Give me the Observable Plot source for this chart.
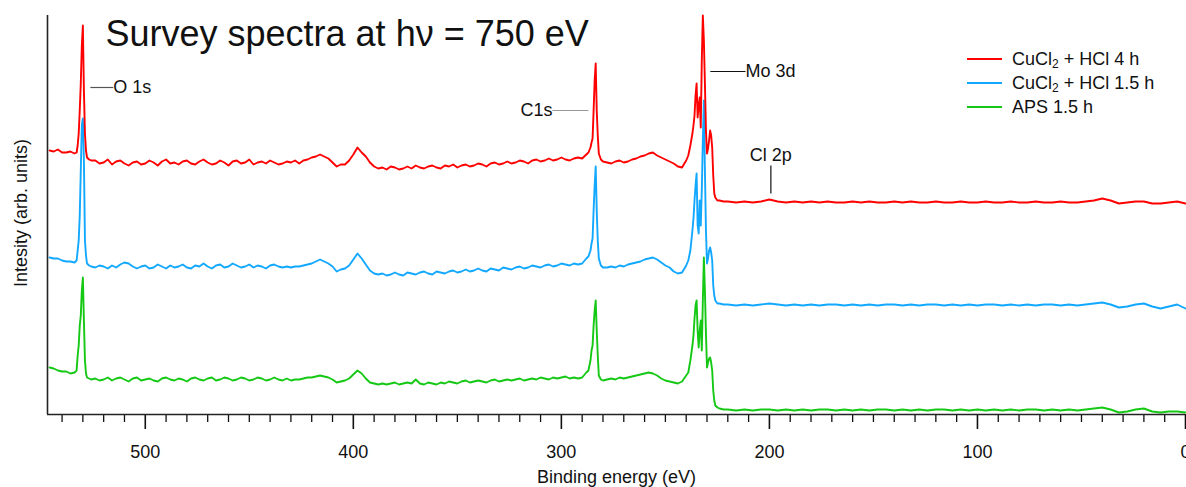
<!DOCTYPE html>
<html><head><meta charset="utf-8">
<script src="https://cdn.jsdelivr.net/npm/d3@7"></script>
<script src="https://cdn.jsdelivr.net/npm/@observablehq/plot@0.6"></script>
<style>
body{margin:0;background:#fff;font-family:"Liberation Sans",Arial,sans-serif}
#wrap{position:relative;width:1186px;height:487px;overflow:hidden}
.leg{position:absolute;left:967px;font-size:18px;color:#111;display:flex;align-items:center;height:24px;white-space:nowrap}
.leg .sw{display:inline-block;width:35px;height:2px;margin-right:10px}
.leg sub{font-size:12px;vertical-align:-3px;line-height:0}
</style></head>
<body><div id="wrap"></div>
<script>
// Binding energy grid (eV)
const energy = [
 546,544,542,540,538,536,534,
 533,532.5,532,531.5,531,530.5,530,529.5,529,528.5,528,527,526,
 524,522,520,518,516,514,512,510,508,506, 504,502,500,498,496,494,492,490,488,486, 484,482,480,478,476,474,472,470,468,466, 464,462,460,458,456,454,452,450,448,446, 444,442,440,438,436,434,432,
 430,428,426,424,422,420,418,416,414,412, 410,408,406,404,402,400,398,396,394,392, 390,388,
 386,384,382,380,378,376,374,372,370,368, 366,364,362,360,358,356,354,352,350,348, 346,344,342,340,338,336,334,332,330,328, 326,324,322,320,318,316,314,312,310,308, 306,304,302,300,298,296,294,292,290,
 288,287,286,285.5,285,284.5,284,283.5,283,282.5,282,281,280,
 278,276,274,272,270,268,266,264,262,260, 258,256,254,252,250,248,
 246,244,242,240,239,238,237,236.5,236,235.5, 235,234.5,234,233.5,233,232.5,232,231.5,231,230.5, 230,229.5,229,228.5,228,227.5,227,226.5,226,225, 224,222,
 220,216,212,208,204,200,196,192,188,184, 180,176,172,168,164,160,156,152,148,144, 140,136,132,128,124,120,116,112,108,104, 100,96,92,88,84,80,76,72,68,64, 60,56,52,48,44,40,36,32,28,24, 20,16,12,8,4,0
];
// Intensity (arb. units), offset stacked
const cucl4h = [
 264,263,265,262,262,263,261,
 262,269,281,304,331,369,389,324,281,264,257,255,254,
 254,251,252,255,250,253,254,251,249,252, 253,250,251,254,252,249,253,255,251,252, 250,253,254,251,250,253,255,252,250,251, 254,252,249,253,254,251,252,255,250,252, 253,251,254,252,250,251,253,
 252,254,251,254,255,257,258,260,258,256, 252,248,250,250,254,260,267,262,258,252, 248,246,
 247,245,248,247,245,246,248,246,249,247, 246,248,249,247,246,249,248,250,247,249, 250,248,249,251,250,248,251,252,250,251, 253,251,252,254,253,251,254,255,253,254, 256,254,255,257,255,254,256,257,256,
 260,262,267,272,276,304,334,351,304,279,261,255,253,
 252,251,253,254,252,253,255,256,258,259, 261,262,259,257,255,253,
 251,248,247,254,259,269,281,289,299,319, 331,297,309,317,287,354,399,374,331,284, 261,266,274,284,279,267,239,221,217,214, 214,213,
 213,212,213,212,213,215,213,212,213,212, 213,212,213,212,212,213,212,213,212,212, 213,212,213,212,212,213,212,212,213,212, 212,213,212,212,213,212,212,213,212,212, 213,212,212,213,214,216,214,211,212,213, 213,211,211,212,213,211
];
const cucl15h = [
 157,156,156,154,153,153,152,
 154,164,174,199,244,289,296,254,174,159,151,149,148,
 147,149,148,146,149,147,150,152,151,148, 146,148,149,146,147,150,148,146,149,147, 148,150,147,146,149,148,151,148,146,149, 150,147,148,151,149,147,148,150,147,149, 148,146,149,150,148,147,148,
 147,148,148,149,150,151,153,155,153,151, 148,143,145,146,149,155,161,156,150,144, 141,140,
 141,139,140,142,140,139,142,141,140,142, 143,141,140,143,142,141,143,144,142,143, 145,143,144,146,144,143,146,145,144,147, 146,145,147,148,146,147,149,148,147,149, 150,148,149,151,150,149,151,150,151,
 156,158,164,171,176,204,229,248,204,174,156,149,147,
 147,148,147,149,148,150,151,152,153,155, 156,157,155,152,149,147,
 143,141,142,149,154,164,184,196,214,229, 241,189,181,214,189,224,274,314,244,184, 151,156,164,167,162,154,129,119,114,111, 111,110,
 110,109,110,109,110,111,110,109,110,109, 110,109,110,110,109,110,109,110,109,110, 110,109,110,109,110,110,109,110,109,110, 109,110,110,109,110,109,110,109,110,110, 109,110,109,110,111,112,110,107,108,110, 111,108,106,108,110,106
];
const aps15h = [
 47,46,44,43,43,41,42,
 44,59,69,89,99,124,137,94,54,41,37,36,35,
 36,34,35,37,34,36,37,35,33,36, 37,34,35,36,34,33,36,37,35,34, 36,35,33,36,37,35,34,36,37,34, 35,37,36,34,35,37,36,34,35,37, 36,34,35,37,35,34,36,
 34,35,35,36,37,37,38,39,38,37, 35,32,33,34,36,40,44,41,36,32, 31,30,
 31,30,31,32,30,31,32,31,35,31, 30,32,31,30,32,31,33,32,31,33, 34,32,33,34,33,32,34,35,33,34, 35,34,35,36,34,35,36,35,37,36, 35,37,36,37,38,36,37,36,37,
 42,44,54,64,69,89,104,114,84,59,39,35,34,
 35,36,35,37,36,37,38,39,40,41, 42,41,39,36,34,33,
 32,31,33,39,42,54,69,79,96,109, 114,84,67,84,94,64,114,157,124,81, 47,52,56,57,52,44,24,14,9,7, 6,5,
 5,4,5,4,5,5,4,5,4,5, 4,5,5,4,5,4,5,4,5,5, 4,5,4,5,4,5,5,4,5,4, 5,4,5,4,5,4,5,5,4,5, 4,5,4,5,6,7,5,2,3,5, 6,3,2,3,3,2
];
const seriesNames = ["CuCl2 + HCl 4 h", "CuCl2 + HCl 1.5 h", "APS 1.5 h"];
const seriesColors = ["#ff0000", "#12a8ff", "#14c814"];
const majorTicks = [500, 400, 300, 200, 100, 0];
const minorTicks = [540,530,520,510,490,480,470,460,450,440,430,420,410,390,380,370,360,350,340,330,320,310,290,280,270,260,250,240,230,220,210,190,180,170,160,150,140,130,120,110,90,80,70,60,50,40,30,20,10];
const leftLabels = [
 {name:"O 1s", e1:526.4, e2:515.4, v:327, color:"#555"},
 {name:"Mo 3d", e1:228.4, e2:211.5, v:343, color:"#111"}
];
const rightLabels = [
 {name:"C1s", e1:304.3, e2:287.0, v:304, color:"#999"}
];
const clLabel = {name:"Cl 2p", e:199.3, v:259, v1:249, v2:221};

const all = [cucl4h, cucl15h, aps15h];
const rows = all.flatMap((vals, k) => energy.map((e, i) => ({e, v: vals[i], k})));

const FONT = '"Liberation Sans", Arial, sans-serif';
const chart = Plot.plot({
  width: 1186, height: 487,
  marginLeft: 47, marginRight: 1, marginTop: 15, marginBottom: 73,
  x: {domain: [547, 0]},
  y: {domain: [0, 399], axis: null},
  style: {fontFamily: FONT, background: "#fff", color: "#111"},
  marks: [
    Plot.axisX({ticks: minorTicks, tickSize: 8, text: null, label: null, strokeWidth: 1.3}),
    Plot.axisX({ticks: majorTicks, tickSize: 15, tickPadding: 16, fontSize: 18, label: null, strokeWidth: 1.6, tickFormat: d => String(d)}),
    ...[2, 1, 0].map(k => Plot.line(rows.filter(r => r.k === k), {x: "e", y: "v", stroke: seriesColors[k], strokeWidth: 1.9})),
    Plot.ruleY([0], {stroke: "#222", strokeWidth: 1.6}),
    Plot.ruleX([547], {stroke: "#222", strokeWidth: 1.6}),
    Plot.link(leftLabels, {x1: "e1", x2: "e2", y1: "v", y2: "v", stroke: "color", strokeWidth: 1.2}),
    Plot.text(leftLabels, {x: "e2", y: "v", text: "name", textAnchor: "start", fontSize: 18, fill: "#111"}),
    Plot.link(rightLabels, {x1: "e1", x2: "e2", y1: "v", y2: "v", stroke: "color", strokeWidth: 1.2}),
    Plot.text(rightLabels, {x: "e1", y: "v", text: "name", textAnchor: "end", fontSize: 18, fill: "#111"}),
    Plot.link([clLabel], {x1: "e", x2: "e", y1: "v1", y2: "v2", stroke: "#111", strokeWidth: 1.2}),
    Plot.text([clLabel], {x: "e", y: "v", text: "name", fontSize: 18, fill: "#111"}),
    Plot.text(["Survey spectra at h\u03bd = 750 eV"], {frameAnchor: "top-left", dx: 58, dy: 18.5, text: d => d, textAnchor: "start", lineAnchor: "middle", fontSize: 36, fill: "#111"}),
    Plot.text(["Intesity (arb. units)"], {frameAnchor: "left", dx: -26, dy: -2, rotate: -90, text: d => d, textAnchor: "middle", lineAnchor: "middle", fontSize: 18, fill: "#111"}),
    Plot.text(["Binding energy (eV)"], {frameAnchor: "bottom", dy: 63, text: d => d, textAnchor: "middle", lineAnchor: "middle", fontSize: 18, fill: "#111"})
  ]
});
const wrap = document.getElementById("wrap");
wrap.appendChild(chart);

// legend
const legendTops = [59, 83, 107];
const legendHtml = ["CuCl<sub>2</sub> + HCl 4 h", "CuCl<sub>2</sub> + HCl 1.5 h", "APS 1.5 h"];
seriesNames.forEach((n, k) => {
  const d = document.createElement("div");
  d.className = "leg";
  d.style.top = (legendTops[k] - 12) + "px";
  d.innerHTML = `<span class="sw" style="background:${seriesColors[k]}"></span><span>${legendHtml[k]}</span>`;
  wrap.appendChild(d);
});
</script>
</body></html>
